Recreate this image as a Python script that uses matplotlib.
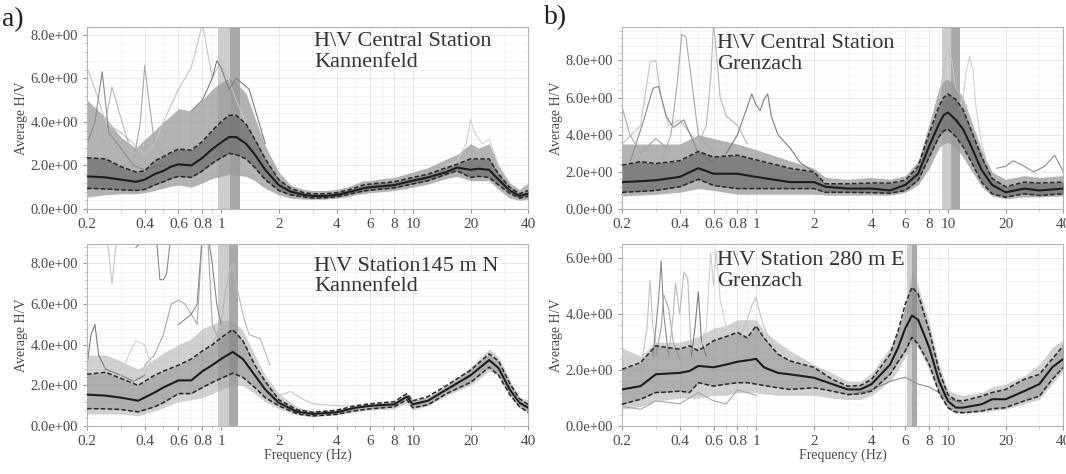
import matplotlib
matplotlib.use("Agg")
import matplotlib.pyplot as plt
from matplotlib.ticker import FuncFormatter, FixedLocator, NullFormatter, LogLocator, MultipleLocator

plt.rcParams['font.family'] = ['Liberation Serif', 'DejaVu Serif']

# ---- a) top : H\V Central Station Kannenfeld
ka_f = [0.2, 0.25, 0.3, 0.36, 0.4, 0.45, 0.5, 0.55, 0.6, 0.7, 0.8, 0.9, 1.0, 1.1, 1.2, 1.35, 1.5, 1.7, 2.0, 2.3,
        2.7, 3.0, 3.5, 4.0, 4.5, 5.0, 5.5, 6.0, 7.0, 8.0, 10, 12, 15, 17, 20, 22, 25, 28, 32, 36, 40]
ka_mean = [1.5, 1.45, 1.35, 1.25, 1.35, 1.6, 1.75, 1.95, 2.05, 2.0, 2.35, 2.75, 3.05, 3.3, 3.3, 3.0, 2.5, 1.8, 1.1, 0.8,
           0.65, 0.6, 0.6, 0.65, 0.75, 0.85, 0.95, 1.0, 1.05, 1.1, 1.3, 1.45, 1.7, 1.9, 1.8, 1.85, 1.8, 1.35, 0.85, 0.6, 0.7]
ka_hi = [2.35, 2.3, 1.95, 1.7, 1.75, 2.2, 2.4, 2.6, 2.75, 2.7, 3.1, 3.6, 4.0, 4.3, 4.3, 3.9, 3.2, 2.3, 1.35, 0.95,
         0.75, 0.7, 0.7, 0.75, 0.85, 0.97, 1.1, 1.15, 1.2, 1.25, 1.45, 1.6, 1.9, 2.05, 2.3, 2.3, 2.3, 1.6, 1.0, 0.7, 0.85]
ka_lo = [0.95, 0.92, 0.88, 0.85, 0.9, 1.1, 1.25, 1.4, 1.5, 1.45, 1.75, 2.1, 2.35, 2.55, 2.5, 2.3, 1.9, 1.35, 0.85, 0.65,
         0.55, 0.5, 0.52, 0.56, 0.65, 0.74, 0.82, 0.87, 0.92, 0.97, 1.15, 1.3, 1.6, 1.75, 1.45, 1.5, 1.45, 1.1, 0.72, 0.5, 0.58]
ka_top = [5.0, 4.2, 3.3, 2.8, 3.2, 3.6, 4.0, 4.3, 4.6, 4.5, 5.0, 5.5, 5.8, 6.0, 5.8, 5.3, 4.2, 2.9, 1.7, 1.1,
          0.9, 0.85, 0.85, 0.9, 1.0, 1.15, 1.3, 1.3, 1.4, 1.45, 1.7, 1.9, 2.3, 2.5, 3.0, 2.8, 3.0, 2.0, 1.2, 0.9, 1.2]
ka_bot = [0.55, 0.65, 0.7, 0.7, 0.75, 0.85, 0.95, 1.05, 1.1, 1.0, 1.2, 1.4, 1.5, 1.6, 1.55, 1.5, 1.3, 0.95, 0.65, 0.5,
          0.45, 0.45, 0.45, 0.5, 0.55, 0.65, 0.7, 0.75, 0.8, 0.85, 1.0, 1.15, 1.4, 1.5, 1.3, 1.3, 1.3, 0.9, 0.5, 0.4, 0.45]
ka_windows = [
    ([0.2, 0.22, 0.25, 0.3, 0.35, 0.4, 0.45, 0.5, 0.6, 0.7, 0.8, 0.9, 1.0, 1.2, 1.5, 2.0],
     [6.5, 5.5, 4.0, 3.5, 3.0, 2.5, 3.0, 4.0, 5.5, 6.5, 8.5, 6.0, 6.8, 5.0, 3.0, 1.2]),
    ([0.2, 0.22, 0.24, 0.26, 0.3, 0.35, 0.4, 0.5], [3.0, 4.0, 6.3, 3.5, 2.8, 2.0, 1.8, 2.0]),
    ([0.3, 0.35, 0.38, 0.4, 0.42, 0.45, 0.5, 0.6], [2.0, 2.2, 4.0, 6.6, 5.0, 3.0, 2.5, 2.5]),
    ([0.22, 0.25, 0.27, 0.3, 0.33, 0.36], [3.0, 4.0, 5.6, 4.2, 3.0, 2.5]),
    ([0.7, 0.8, 0.9, 0.95, 1.0, 1.1, 1.2, 1.4, 1.7], [4.5, 5.0, 6.0, 6.8, 6.5, 5.5, 6.0, 5.5, 3.0]),
    ([15, 17, 19, 20, 21, 23, 25, 28], [2.0, 2.2, 3.0, 4.1, 3.5, 3.0, 3.2, 2.0]),
]
ka_peak = [0.96, 1.11, 1.26]

# ---- a) bottom : H\V Station145 m N Kannenfeld
kb_f = [0.2, 0.25, 0.3, 0.37, 0.45, 0.5, 0.6, 0.7, 0.8, 0.9, 1.0, 1.15, 1.3, 1.5, 1.7, 2.0, 2.5, 3.0, 4.0, 5.0,
        6.0, 8.0, 9.3, 10, 12, 15, 20, 25, 28, 32, 36, 40]
kb_mean = [1.55, 1.5, 1.4, 1.25, 1.65, 1.9, 2.25, 2.25, 2.7, 3.0, 3.3, 3.65, 3.3, 2.5, 1.8, 1.15, 0.7, 0.6, 0.68, 0.9,
           1.0, 1.07, 1.45, 1.07, 1.25, 1.8, 2.5, 3.25, 2.85, 1.8, 1.15, 0.9]
kb_hi = [2.55, 2.65, 2.35, 2.0, 2.5, 2.7, 3.0, 3.3, 3.7, 4.0, 4.35, 4.75, 4.2, 3.0, 2.2, 1.3, 0.8, 0.68, 0.78, 1.0,
         1.1, 1.2, 1.6, 1.25, 1.45, 2.0, 2.75, 3.55, 3.2, 2.1, 1.35, 1.05]
kb_lo = [0.86, 0.85, 0.82, 0.7, 0.95, 1.15, 1.6, 1.6, 1.9, 2.15, 2.35, 2.6, 2.4, 1.9, 1.4, 1.0, 0.6, 0.5, 0.58, 0.76,
         0.85, 0.95, 1.3, 0.9, 1.05, 1.6, 2.15, 2.9, 2.5, 1.55, 0.95, 0.68]
kb_top = [3.5, 3.5, 3.2, 2.8, 3.3, 3.6, 4.0, 4.3, 4.8, 5.0, 5.2, 5.2, 4.7, 3.5, 2.5, 1.6, 0.95, 0.75, 0.8, 1.0,
          1.1, 1.2, 1.6, 1.3, 1.4, 2.0, 2.9, 3.8, 3.4, 2.3, 1.4, 1.3]
kb_bot = [0.6, 0.6, 0.6, 0.5, 0.75, 0.9, 1.2, 1.3, 1.4, 1.6, 1.8, 2.0, 2.0, 1.6, 1.2, 0.85, 0.55, 0.45, 0.55, 0.7,
          0.8, 0.85, 1.15, 0.8, 1.0, 1.5, 2.0, 2.7, 2.5, 1.5, 0.9, 0.7]
kb_windows = [
    ([0.25, 0.26, 0.27, 0.28, 0.29], [9.5, 8.5, 7.0, 8.5, 9.5]),
    ([0.36, 0.38, 0.42, 0.46, 0.48, 0.5, 0.52, 0.55, 0.6], [8.8, 9.0, 9.2, 9.3, 7.2, 7.2, 7.5, 9.5, 9.5]),
    ([0.4, 0.45, 0.5, 0.55, 0.6, 0.65, 0.7, 0.75, 0.8, 0.85, 0.9, 1.0], [3.0, 3.5, 4.5, 6.0, 6.2, 6.0, 5.5, 5.0, 9.5, 9.5, 5.0, 4.0]),
    ([0.9, 1.0, 1.05, 1.1, 1.15, 1.2, 1.3, 1.4, 1.6, 1.8], [4.0, 5.0, 6.5, 7.5, 8.0, 7.0, 5.5, 4.5, 4.3, 3.0]),
    ([0.2, 0.21, 0.22, 0.23, 0.25, 0.3, 0.35, 0.4], [3.0, 4.5, 5.0, 3.5, 2.8, 2.5, 2.2, 2.5]),
    ([0.3, 0.33, 0.36, 0.4, 0.43, 0.46, 0.5], [2.5, 3.5, 4.2, 4.0, 3.0, 2.8, 3.0]),
    ([1.6, 1.8, 2.0, 2.3, 2.7, 3.0, 4.0, 5.0], [2.5, 1.8, 1.5, 1.7, 1.3, 1.1, 1.0, 1.0]),
    ([0.6, 0.7, 0.75, 0.8, 0.85, 0.9, 0.95, 1.0], [5.0, 5.5, 6.0, 9.5, 9.5, 8.0, 6.0, 5.0]),
]
kb_peak = [0.96, 1.10, 1.22]

# ---- b) top : H\V Central Station Grenzach
ga_f = [0.2, 0.25, 0.3, 0.4, 0.5, 0.6, 0.8, 1.0, 1.5, 2.0, 2.3, 3.0, 4.0, 5.0, 6.0, 7.0, 8.0, 9.0, 9.5, 10,
        11, 12, 13, 15, 17, 20, 25, 30, 40]
ga_mean = [1.45, 1.5, 1.55, 1.73, 2.2, 1.9, 1.9, 1.73, 1.45, 1.45, 1.2, 1.1, 1.1, 1.0, 1.3, 1.9, 3.4, 4.6, 5.05, 5.2,
           4.8, 4.3, 3.55, 2.1, 1.3, 0.9, 1.1, 1.0, 1.1]
ga_hi = [2.36, 2.55, 2.45, 2.6, 3.1, 2.8, 2.9, 2.65, 2.2, 2.0, 1.36, 1.36, 1.4, 1.4, 1.55, 2.3, 4.1, 5.55, 6.0, 6.2,
         5.9, 5.35, 4.45, 2.8, 1.65, 1.2, 1.45, 1.4, 1.45]
ga_lo = [0.9, 0.95, 1.0, 1.2, 1.6, 1.27, 1.1, 1.1, 1.1, 1.1, 0.9, 0.9, 0.88, 0.85, 1.0, 1.55, 2.8, 3.9, 4.2, 4.3,
         3.9, 3.35, 2.7, 1.45, 0.82, 0.64, 0.82, 0.73, 0.82]
ga_top = [3.5, 3.5, 3.5, 3.5, 4.0, 3.8, 3.5, 3.2, 2.6, 2.2, 1.7, 1.6, 1.7, 1.6, 1.8, 2.6, 4.6, 6.5, 6.9, 7.0,
          6.6, 6.0, 5.0, 3.2, 2.0, 1.6, 1.8, 1.7, 1.8]
ga_bot = [0.7, 0.75, 0.8, 0.9, 1.1, 1.0, 0.8, 0.8, 0.8, 0.8, 0.75, 0.75, 0.75, 0.75, 0.9, 1.3, 2.2, 3.3, 3.5, 3.6,
          3.3, 2.8, 2.2, 1.2, 0.7, 0.55, 0.65, 0.65, 0.7]
ga_windows = [
    ([0.2, 0.25, 0.28, 0.3, 0.32, 0.35, 0.4, 0.5], [3.5, 4.5, 7.9, 8.0, 6.0, 4.5, 4.8, 3.5]),
    ([0.22, 0.26, 0.29, 0.31, 0.34, 0.37, 0.42, 0.5, 0.6], [2.5, 4.8, 6.5, 6.6, 5.0, 4.4, 4.8, 3.0, 2.5]),
    ([0.32, 0.36, 0.39, 0.41, 0.43, 0.46, 0.5, 0.55, 0.6], [2.5, 4.0, 7.0, 9.4, 9.3, 7.0, 4.0, 3.5, 3.0]),
    ([0.5, 0.55, 0.58, 0.6, 0.62, 0.65, 0.7, 0.8, 0.9], [3.5, 4.5, 7.0, 10.0, 8.5, 6.0, 5.0, 4.5, 3.5]),
    ([0.7, 0.8, 0.9, 0.95, 1.0, 1.05, 1.1, 1.15, 1.2, 1.3, 1.5, 1.7, 2.0],
     [3.0, 4.0, 5.5, 6.2, 5.6, 5.3, 5.9, 6.2, 5.0, 4.0, 3.3, 2.5, 2.0]),
    ([11, 12, 12.5, 13, 13.5, 14, 15, 16], [5.0, 6.0, 7.5, 8.2, 7.5, 5.5, 3.5, 2.5]),
    ([9, 9.5, 10, 10.5, 11, 12], [6.0, 7.5, 8.7, 8.0, 6.5, 6.0]),
    ([18, 20, 22, 25, 28, 32, 36, 40], [2.2, 2.3, 2.6, 2.3, 2.0, 2.3, 2.9, 2.0]),
    ([0.2, 0.22, 0.25, 0.3, 0.35], [5.5, 4.0, 3.0, 3.8, 3.2]),
]
ga_peak = [9.35, 10.4, 11.5]

# ---- b) bottom : H\V Station 280 m E Grenzach
gb_f = [0.2, 0.25, 0.3, 0.35, 0.4, 0.45, 0.5, 0.6, 0.7, 0.8, 0.9, 1.0, 1.1, 1.3, 1.5, 2.0, 2.5, 3.0, 3.5, 4.0,
        5.0, 5.5, 6.0, 6.5, 7.0, 8.0, 9.0, 10, 11, 12, 15, 17, 20, 25, 30, 35, 40]
gb_mean = [1.31, 1.43, 1.85, 1.88, 1.9, 1.97, 2.15, 2.1, 2.2, 2.3, 2.35, 2.4, 2.1, 1.9, 1.85, 1.73, 1.5, 1.31, 1.31, 1.5,
           2.2, 2.8, 3.5, 3.95, 3.8, 2.8, 1.6, 0.9, 0.66, 0.66, 0.78, 0.96, 0.96, 1.25, 1.5, 2.1, 2.4]
gb_hi = [2.03, 2.27, 2.87, 2.8, 2.75, 2.87, 2.69, 3.05, 3.2, 3.35, 3.15, 3.58, 3.15, 2.57, 2.33, 2.1, 1.67, 1.43, 1.45, 1.67,
         2.57, 3.4, 4.36, 4.96, 4.72, 3.4, 1.97, 1.13, 0.92, 0.9, 1.07, 1.2, 1.31, 1.67, 1.85, 2.4, 2.87]
gb_lo = [0.78, 0.96, 1.2, 1.22, 1.25, 1.2, 1.55, 1.43, 1.5, 1.55, 1.55, 1.5, 1.45, 1.37, 1.31, 1.37, 1.25, 1.13, 1.15, 1.25,
         1.85, 2.3, 2.69, 3.17, 2.93, 2.2, 1.2, 0.66, 0.5, 0.48, 0.54, 0.62, 0.66, 0.9, 1.07, 1.67, 2.1]
gb_top = [2.8, 2.5, 3.0, 3.0, 3.0, 3.1, 3.2, 3.5, 3.6, 3.8, 3.8, 3.8, 3.4, 3.0, 2.7, 2.2, 1.9, 1.6, 1.6, 1.9,
          2.8, 3.5, 4.2, 5.5, 5.0, 3.7, 2.2, 1.3, 1.15, 1.1, 1.2, 1.4, 1.5, 1.8, 2.2, 2.8, 3.1]
gb_bot = [0.6, 0.7, 0.9, 0.95, 1.0, 1.0, 1.0, 1.1, 1.1, 1.2, 1.2, 1.2, 1.15, 1.1, 1.1, 1.1, 1.0, 0.95, 0.95, 1.1,
          1.6, 2.0, 2.5, 3.0, 2.8, 2.0, 1.1, 0.6, 0.45, 0.45, 0.5, 0.55, 0.6, 0.8, 0.95, 1.5, 2.0]
gb_windows = [
    ([0.25, 0.27, 0.28, 0.29, 0.31], [2.0, 3.5, 5.2, 3.5, 2.5]),
    ([0.29, 0.31, 0.32, 0.33, 0.35], [2.5, 4.5, 5.9, 4.0, 2.5]),
    ([0.3, 0.32, 0.33, 0.35, 0.37, 0.4], [2.5, 3.5, 4.7, 4.2, 3.0, 2.4]),
    ([0.35, 0.37, 0.38, 0.4, 0.42, 0.44, 0.46], [2.5, 4.0, 5.1, 4.0, 5.5, 5.3, 2.5]),
    ([0.46, 0.48, 0.5, 0.52, 0.55], [2.5, 3.5, 4.8, 3.0, 2.5]),
    ([0.5, 0.55, 0.58, 0.6, 0.62, 0.65, 0.7], [2.5, 3.5, 6.2, 5.0, 6.3, 4.5, 3.5]),
    ([0.8, 0.9, 0.95, 1.0, 1.05, 1.1, 1.2, 1.4], [3.0, 3.8, 4.3, 4.6, 4.0, 3.5, 3.0, 2.6]),
    ([3.0, 4.0, 5.0, 6.0, 7.0, 8.0, 10, 12], [1.1, 1.3, 1.6, 1.75, 1.5, 1.4, 1.0, 0.8]),
    ([0.2, 0.25, 0.3, 0.4, 0.5, 0.6, 0.7, 0.8, 1.0], [0.7, 0.6, 0.9, 0.8, 1.2, 0.9, 0.8, 1.3, 1.1]),
]
gb_peak = [6.15, 6.5, 6.9]

x_ticks = [0.2, 0.4, 0.6, 0.8, 1, 2, 4, 6, 8, 10, 20, 40]
x_labels = ['0.2', '0.4', '0.6', '0.8', '1', '2', '4', '6', '8', '10', '20', '40']

GRAYS = ['#c4c4c4', '#8a8a8a', '#a8a8a8', '#b8b8b8', '#7d7d7d', '#d0d0d0']


def draw_panel(ax, f, mean, hi, lo, top, bot, windows, peak, ymax, title, tx, ty, dense):
    ax.axvspan(peak[0], peak[2], color='#cdcdcd', lw=0, zorder=0.8)
    ax.axvspan(peak[1], peak[2], color='#a9a9a9', lw=0, zorder=0.9)
    ax.fill_between(f, bot, top, color='#9a9a9a', alpha=0.75 if dense else 0.45, lw=0, zorder=1)
    for i, (wf, wv) in enumerate(windows):
        ax.plot(wf, wv, color=GRAYS[i % len(GRAYS)], lw=0.8, zorder=2)
    ax.fill_between(f, lo, hi, color='#6f6f6f', alpha=0.75 if dense else 0.35, lw=0, zorder=3)
    ax.plot(f, hi, color='#262626', lw=1.1, ls=(0, (3, 1.5)), zorder=4)
    ax.plot(f, lo, color='#262626', lw=1.1, ls=(0, (3, 1.5)), zorder=4)
    ax.plot(f, mean, color='#1c1c1c', lw=1.5, zorder=5)

    ax.set_xscale('log')
    ax.set_xlim(0.2, 40)
    ax.set_ylim(0, ymax)
    ax.xaxis.set_major_locator(FixedLocator(x_ticks))
    ax.xaxis.set_major_formatter(FuncFormatter(lambda v, p: x_labels[x_ticks.index(v)] if v in x_ticks else ''))
    ax.xaxis.set_minor_locator(LogLocator(base=10, subs=(1, 2, 3, 4, 5, 6, 7, 8, 9), numticks=20))
    ax.xaxis.set_minor_formatter(NullFormatter())
    ax.yaxis.set_major_locator(MultipleLocator(2))
    ax.yaxis.set_minor_locator(MultipleLocator(0.4))
    ax.yaxis.set_major_formatter(FuncFormatter(lambda v, p: f"{v:.1e}"))
    ax.tick_params(axis='both', which='major', labelsize=10.5, colors='#9a9a9a', labelcolor='#4a4a4a', length=3)
    ax.tick_params(axis='both', which='minor', colors='#c0c0c0', length=2)
    ax.tick_params(axis='x', labelsize=11)
    ax.grid(True, which='major', color='#e4e4e4', lw=0.6)
    ax.grid(True, which='minor', color='#f0f0f0', lw=0.5)
    ax.set_axisbelow(True)
    for s in ax.spines.values():
        s.set_color('#b5b5b5')
        s.set_linewidth(0.8)
    ax.set_ylabel('Average H/V', fontsize=10, color='#4a4a4a', labelpad=2)
    ax.text(tx, ty, title, transform=ax.transAxes, fontsize=16, va='top', ha='left',
            color='#333333', linespacing=1.1, zorder=6)


fig = plt.figure(figsize=(10.66, 4.74), dpi=100)
ax1 = fig.add_axes([0.0816, 0.559, 0.414, 0.384])
ax2 = fig.add_axes([0.5835, 0.559, 0.414, 0.384])
ax3 = fig.add_axes([0.0816, 0.101, 0.414, 0.384])
ax4 = fig.add_axes([0.5835, 0.101, 0.414, 0.384])

draw_panel(ax1, ka_f, ka_mean, ka_hi, ka_lo, ka_top, ka_bot, ka_windows, ka_peak, 8.35,
           'H\\V Central Station\nKannenfeld', 0.515, 0.97, True)
draw_panel(ax2, ga_f, ga_mean, ga_hi, ga_lo, ga_top, ga_bot, ga_windows, ga_peak, 9.8,
           'H\\V Central Station\nGrenzach', 0.215, 0.96, True)
draw_panel(ax3, kb_f, kb_mean, kb_hi, kb_lo, kb_top, kb_bot, kb_windows, kb_peak, 8.95,
           'H\\V Station145 m N\nKannenfeld', 0.515, 0.93, False)
draw_panel(ax4, gb_f, gb_mean, gb_hi, gb_lo, gb_top, gb_bot, gb_windows, gb_peak, 6.5,
           'H\\V Station 280 m E\nGrenzach', 0.215, 0.96, False)

for ax in (ax3, ax4):
    ax.set_xlabel('Frequency (Hz)', fontsize=10, color='#4a4a4a', labelpad=0)

fig.text(0.002, 0.958, 'a)', fontsize=20, color='#222222', va='center')
fig.text(0.51, 0.962, 'b)', fontsize=20, color='#222222', va='center')

fig.savefig('out.png', dpi=100)
